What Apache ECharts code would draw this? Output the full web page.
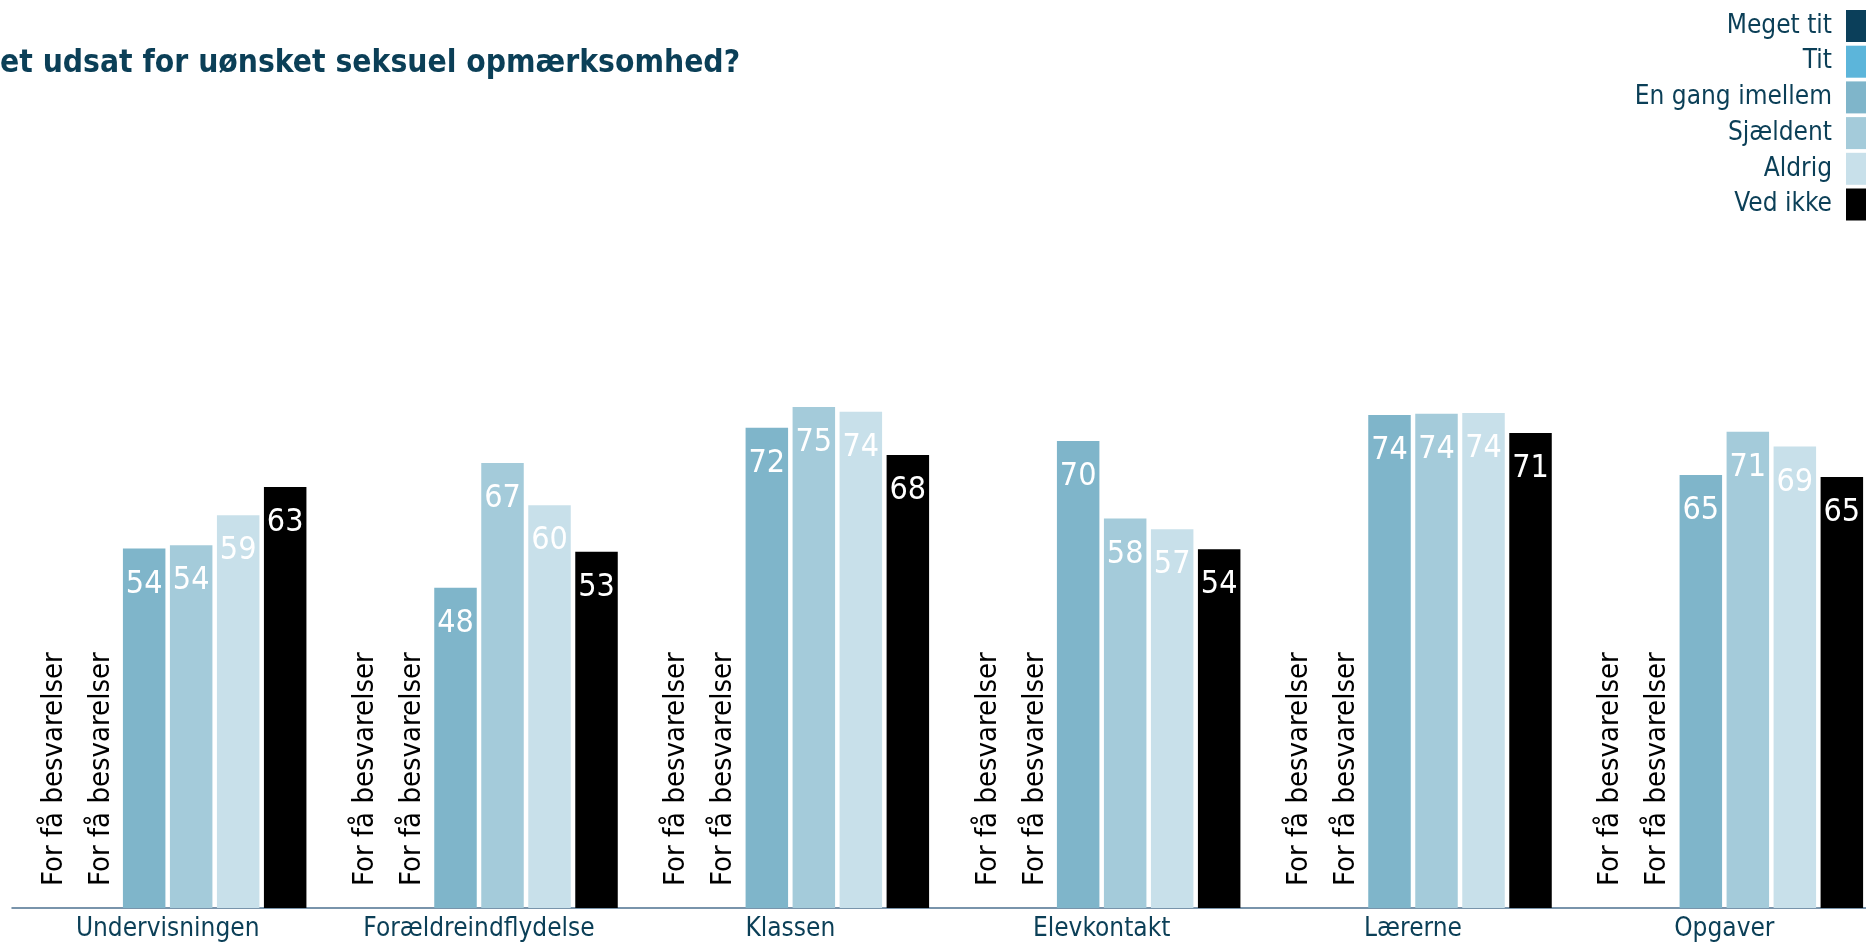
<!DOCTYPE html>
<html>
<head>
<meta charset="utf-8">
<script src="https://cdn.jsdelivr.net/npm/echarts@6/dist/echarts.min.js"></script>
<style>
html,body{margin:0;padding:0;background:#fff;overflow:hidden;width:1866px;height:946px;}
#chart{width:1880px;height:946px;}
</style>
</head>
<body>
<div id="chart"></div>
<script>
const titleText = 'et udsat for uønsket seksuel opmærksomhed?';
const categories = ['Undervisningen', 'Forældreindflydelse', 'Klassen', 'Elevkontakt', 'Lærerne', 'Opgaver'];
const seriesNames = ['Meget tit', 'Tit', 'En gang imellem', 'Sjældent', 'Aldrig', 'Ved ikke'];
const seriesColors = ['#0b3f5a', '#5cb5da', '#7fb5ca', '#a4cbda', '#c8e0ea', '#000000'];
const tooFewText = 'For få besvarelser';
// null = "For få besvarelser"
const megetTit = [null, null, null, null, null, null];
const tit = [null, null, null, null, null, null];
const enGangImellem = [53.9, 48.0, 72.0, 70.0, 73.9, 64.9];
const sjaeldent = [54.4, 66.7, 75.1, 58.4, 74.1, 71.4];
const aldrig = [58.9, 60.4, 74.4, 56.8, 74.2, 69.2];
const vedIkke = [63.1, 53.4, 67.9, 53.8, 71.2, 64.6];
const allValues = [megetTit, tit, enGangImellem, sjaeldent, aldrig, vedIkke];

const FONT = '"DejaVu Sans Condensed", "Liberation Sans", sans-serif';
const TEXT_COLOR = '#0b3f57';

const series = allValues.map(function (vals, i) {
  return {
    name: seriesNames[i],
    type: 'bar',
    barWidth: 42.5,
    barGap: '10.6%',
    itemStyle: { color: seriesColors[i] },
    data: vals.map(function (v) {
      if (v === null) {
        return {
          value: 0,
          label: {
            show: true,
            formatter: tooFewText,
            position: 'insideBottom',
            distance: 22,
            rotate: 90,
            align: 'left',
            verticalAlign: 'middle',
            offset: [0, 4],
            color: '#000000',
            fontSize: 29,
            fontFamily: FONT
          }
        };
      }
      return { value: v };
    }),
    label: {
      show: true,
      position: 'insideTop',
      distance: 20,
      color: '#ffffff',
      fontSize: 32,
      fontFamily: FONT,
      formatter: function (p) { return Math.round(p.value); }
    },
    emphasis: { disabled: true },
    animation: false
  };
});

const chart = echarts.init(document.getElementById('chart'), null, { renderer: 'canvas' });
chart.setOption({
  backgroundColor: '#ffffff',
  animation: false,
  title: {
    text: titleText,
    left: 0,
    top: 48,
    padding: 0,
    textStyle: { fontSize: 31.5, fontWeight: 'bold', color: TEXT_COLOR, fontFamily: FONT }
  },
  legend: {
    data: seriesNames,
    orient: 'vertical',
    right: 14,
    top: 10,
    align: 'right',
    icon: 'rect',
    itemWidth: 20,
    itemHeight: 32,
    itemGap: 3.7,
    padding: 0,
    textStyle: { fontSize: 26, color: TEXT_COLOR, fontFamily: FONT, padding: [0, 9, 0, 0] }
  },
  grid: { left: 12, top: 241, right: 0, height: 667, containLabel: false },
  xAxis: {
    type: 'category',
    data: categories,
    axisLine: { show: true, lineStyle: { color: '#4d7290', width: 1.5 } },
    axisTick: { show: false },
    axisLabel: { interval: 0, fontSize: 26, color: TEXT_COLOR, fontFamily: FONT, margin: 8 },
    splitLine: { show: false }
  },
  yAxis: {
    type: 'value',
    min: 0,
    max: 100,
    show: false,
    splitLine: { show: false }
  },
  series: series
});
</script>
</body>
</html>
